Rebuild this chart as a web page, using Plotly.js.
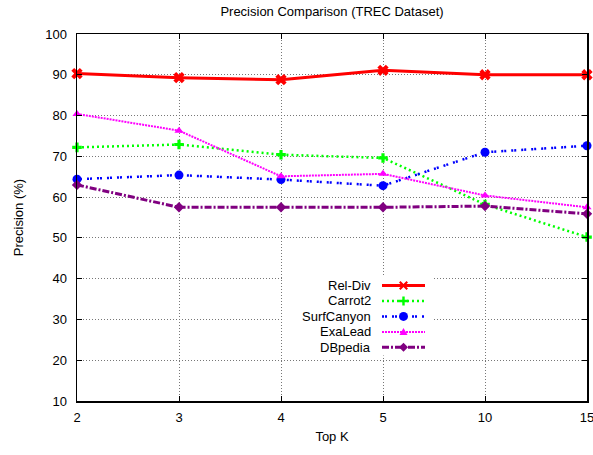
<!DOCTYPE html>
<html><head><meta charset="utf-8">
<script src="https://cdn.plot.ly/plotly-3.0.1.min.js"></script>
<style>html,body{margin:0;padding:0;background:#fff}#chart{width:593px;height:455px}</style>
</head><body><div id="chart"></div>
<script>
// ---- data ----
const categories = ['2', '3', '4', '5', '10', '15'];
const relDiv     = [90.3, 89.3, 88.8, 91.1, 90.0, 90.0];
const carrot2    = [72.2, 72.9, 70.4, 69.6, 58.2, 50.2];
const surfCanyon = [64.4, 65.4, 64.3, 62.8, 71.0, 72.6];
const exaLead    = [80.4, 76.3, 65.1, 65.7, 60.4, 57.5];
const dbpedia    = [63.0, 57.5, 57.5, 57.5, 57.8, 55.9];
const seriesNames = ['Rel-Div', 'Carrot2', 'SurfCanyon', 'ExaLead', 'DBpedia'];
const yTickValues = [10, 20, 30, 40, 50, 60, 70, 80, 90, 100];

// ---- layout / styles ----
const W = 593, H = 455, L = 77, R = 6, T = 33.5, B = 53.5;
const plotW = W - L - R, plotH = H - T - B;
const px = x => (x - L) / plotW;
const py = y => (H - B - y) / plotH;
const FONT = 'Liberation Sans, Arial, Helvetica, sans-serif';

const seriesValues = [relDiv, carrot2, surfCanyon, exaLead, dbpedia];
const styles = [
  {color: '#ff0000', width: 3,   dash: 'solid',            symbol: 'x',           size: 10},
  {color: '#00ff00', width: 2.5, dash: '2px,3px',          symbol: 'cross',       size: 8},
  {color: '#0000ff', width: 2.5, dash: '2px,1px,2px,5px',  symbol: 'circle',      size: 9},
  {color: '#ff00ff', width: 2,   dash: '2px,1px',          symbol: 'triangle-up', size: 8},
  {color: '#800080', width: 3,   dash: '7px,2px,2px,2px',  symbol: 'diamond',     size: 8}
];

const traces = seriesValues.map((vals, i) => ({
  type: 'scatter',
  mode: 'lines+markers',
  name: seriesNames[i],
  x: categories,
  y: vals,
  cliponaxis: false,
  showlegend: false,
  line: {color: styles[i].color, width: styles[i].width, dash: styles[i].dash},
  marker: {color: styles[i].color, symbol: styles[i].symbol, size: styles[i].size, line: {width: 0}}
}));

// ---- custom gnuplot-style legend (text left of sample) ----
const markerPaths = {
  'x': 'M-4.5,-3 L-3,-4.5 L0,-1.5 L3,-4.5 L4.5,-3 L1.5,0 L4.5,3 L3,4.5 L0,1.5 L-3,4.5 L-4.5,3 L-1.5,0 Z',
  'cross': 'M-1.2,-4.5 H1.2 V-1.2 H4.5 V1.2 H1.2 V4.5 H-1.2 V1.2 H-4.5 V-1.2 H-1.2 Z',
  'triangle-up': 'M-4,-3 L4,-3 L0,4 Z',
  'diamond': 'M0,-4.5 L4.5,0 L0,4.5 L-4.5,0 Z'
};
const shapes = [{
  type: 'rect', xref: 'paper', yref: 'paper', layer: 'above',
  x0: px(284), x1: px(433), y0: py(356), y1: py(277),
  fillcolor: '#ffffff', line: {width: 0}
}];
const annotations = [];
seriesNames.forEach((nm, i) => {
  const yc = 285.7 + i * 15.5;
  const s = styles[i];
  shapes.push({
    type: 'line', xref: 'paper', yref: 'paper', layer: 'above',
    x0: px(382), x1: px(425), y0: py(yc), y1: py(yc),
    line: {color: s.color, width: s.width, dash: s.dash}
  });
  if (s.symbol === 'circle') {
    shapes.push({
      type: 'circle', xref: 'paper', yref: 'paper', layer: 'above',
      xsizemode: 'pixel', ysizemode: 'pixel', xanchor: px(403.5), yanchor: py(yc),
      x0: -4.5, x1: 4.5, y0: -4.5, y1: 4.5,
      fillcolor: s.color, line: {width: 0}
    });
  } else {
    shapes.push({
      type: 'path', xref: 'paper', yref: 'paper', layer: 'above',
      xsizemode: 'pixel', ysizemode: 'pixel', xanchor: px(403.5), yanchor: py(yc),
      path: markerPaths[s.symbol],
      fillcolor: s.color, line: {width: 0}
    });
  }
  annotations.push({
    text: nm, xref: 'paper', yref: 'paper', x: px(373), y: py(yc),
    xanchor: 'right', yanchor: 'middle', showarrow: false,
    font: {family: FONT, size: 13, color: '#000'}
  });
});

const axisCommon = {
  showline: true, linecolor: '#000', linewidth: 1.5, mirror: 'allticks',
  ticks: 'inside', ticklen: 5, tickwidth: 1, tickcolor: '#000',
  showgrid: true, gridcolor: '#777', griddash: '1px,2px', gridwidth: 1,
  zeroline: false, automargin: false, fixedrange: true,
  tickfont: {family: FONT, size: 13, color: '#000'}
};

const layout = {
  width: W, height: H,
  margin: {l: L, r: R, t: T, b: B, pad: 0},
  paper_bgcolor: '#fff', plot_bgcolor: '#fff',
  font: {family: FONT, size: 13, color: '#000'},
  showlegend: false,
  title: {
    text: 'Precision Comparison (TREC Dataset)',
    font: {family: FONT, size: 13, color: '#000'},
    x: 0.5, xref: 'paper', y: 1 - 11.7 / H, yref: 'container', yanchor: 'middle'
  },
  xaxis: Object.assign({}, axisCommon, {
    type: 'category', range: [0, categories.length - 1],
    ticklabelstandoff: 4,
    title: {text: 'Top K', font: {family: FONT, size: 13, color: '#000'}, standoff: 8}
  }),
  yaxis: Object.assign({}, axisCommon, {
    range: [10, 100], tickvals: yTickValues,
    ticklabelstandoff: 6,
    title: {text: 'Precision (%)', font: {family: FONT, size: 13, color: '#000'}, standoff: 18}
  }),
  shapes: shapes,
  annotations: annotations
};

Plotly.newPlot('chart', traces, layout, {displayModeBar: false, staticPlot: true});
</script>
</body></html>
